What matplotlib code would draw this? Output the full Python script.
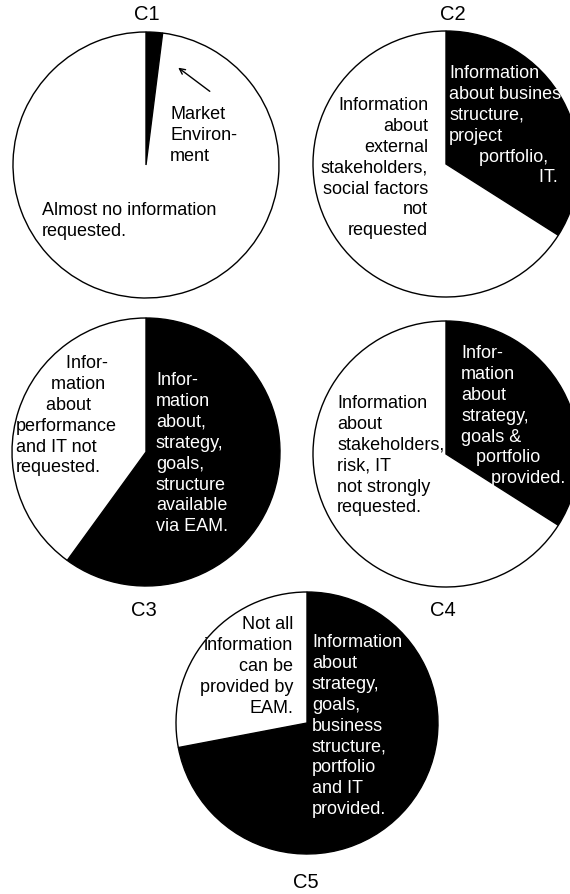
import matplotlib
matplotlib.use('Agg')
import matplotlib.pyplot as plt

plt.rcParams['font.family'] = ['Liberation Sans', 'DejaVu Sans']

W, H = 570, 894

titles = ['C1', 'C2', 'C3', 'C4', 'C5']

# share of the black (covered) slice, rest is white
black_share = [0.02, 0.34, 0.60, 0.34, 0.72]
white_share = [0.98, 0.66, 0.40, 0.66, 0.28]

black_labels = [
    'Market\nEnviron-\nment',
    'Information\nabout busines\nstructure,\nproject\n      portfolio,\n                  IT.',
    'Infor-\nmation\nabout,\nstrategy,\ngoals,\nstructure\navailable\nvia EAM.',
    'Infor-\nmation\nabout\nstrategy,\ngoals &\n   portfolio\n      provided.',
    'Information\nabout\nstrategy,\ngoals,\nbusiness\nstructure,\nportfolio\nand IT\nprovided.',
]
white_labels = [
    'Almost no information\nrequested.',
    'Information\nabout\nexternal\nstakeholders,\nsocial factors\nnot\nrequested',
    '          Infor-\n       mation\n      about\nperformance\nand IT not\nrequested.',
    'Information\nabout\nstakeholders,\nrisk, IT\nnot strongly\nrequested.',
    'Not all\ninformation\ncan be\nprovided by\nEAM.',
]


def py(y):
    # pixel row -> data y (data units are pixels, y up)
    return H - y


fig = plt.figure(figsize=(W / 100, H / 100), dpi=100)
ax = fig.add_axes([0, 0, 1, 1])

centers = [(146, 165), (446, 164), (146, 452), (446, 454), (307, 723)]
radii = [133, 133, 134, 133, 131]

for i in range(5):
    cx, cy = centers[i]
    ax.pie([black_share[i], white_share[i]], colors=['black', 'white'],
           startangle=90, counterclock=False, center=(cx, py(cy)), radius=radii[i],
           wedgeprops=dict(edgecolor='black', linewidth=1))

# titles
title_pos = [(147, 15), (453, 15), (144, 610), (443, 610), (306, 883)]
for t, (x, y) in zip(titles, title_pos):
    ax.text(x, py(y), t, fontsize=14.5, ha='center', va='center')

fs = 13
ls = 1.3
# black slice labels (white text except C1 which sits outside the slice)
ax.text(170, py(106), black_labels[0], fontsize=fs, ha='left', va='top', linespacing=ls)
ax.annotate('', xy=(176, py(66)), xytext=(212, py(93)),
            arrowprops=dict(arrowstyle='->', color='black', lw=1))
ax.text(449, py(65), black_labels[1], fontsize=fs, ha='left', va='top', color='white', linespacing=ls)
ax.text(156, py(372), black_labels[2], fontsize=fs, ha='left', va='top', color='white', linespacing=ls)
ax.text(461, py(345), black_labels[3], fontsize=fs, ha='left', va='top', color='white', linespacing=ls)
ax.text(312, py(634), black_labels[4], fontsize=fs, ha='left', va='top', color='white', linespacing=ls)

# white slice labels
ax.text(42, py(202), white_labels[0], fontsize=fs, ha='left', va='top', linespacing=ls)
ax.text(428, py(97), white_labels[1], fontsize=fs, ha='right', va='top', multialignment='right', linespacing=ls)
ax.text(16, py(355), white_labels[2], fontsize=fs, ha='left', va='top', linespacing=ls)
ax.text(337, py(395), white_labels[3], fontsize=fs, ha='left', va='top', linespacing=ls)
ax.text(293, py(616), white_labels[4], fontsize=fs, ha='right', va='top', multialignment='right', linespacing=ls)

ax.set_xlim(0, W)
ax.set_ylim(0, H)
ax.axis('off')

fig.savefig('out.png', dpi=100)
